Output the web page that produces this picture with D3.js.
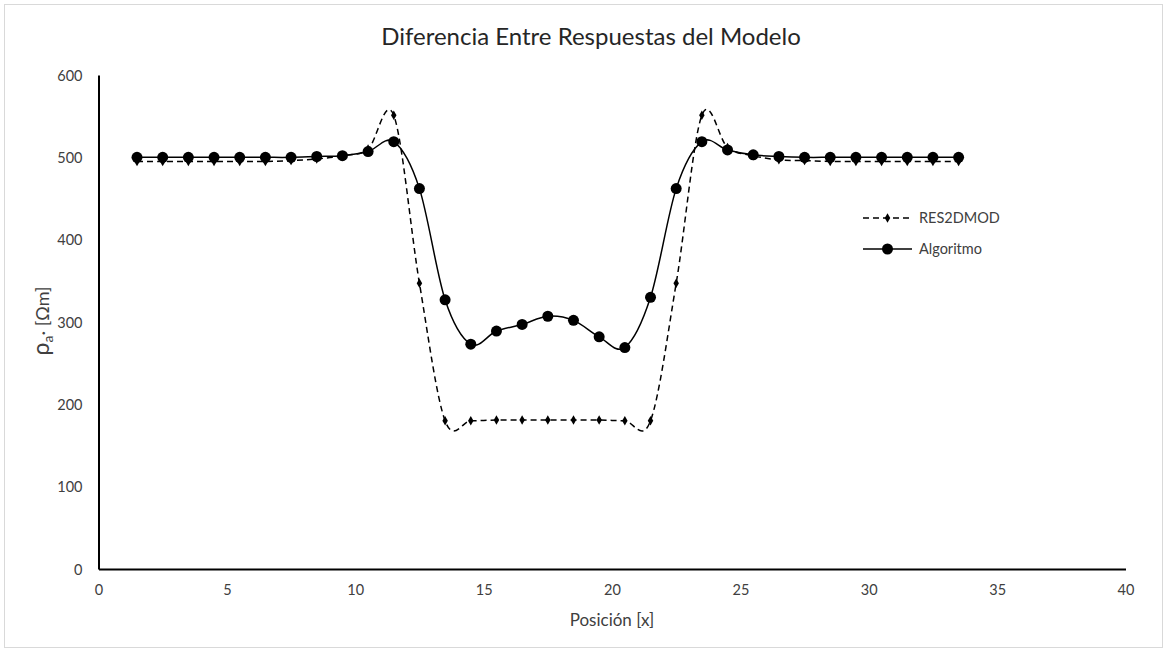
<!DOCTYPE html>
<html>
<head>
<meta charset="utf-8">
<script src="https://cdn.jsdelivr.net/npm/d3@7"></script>
<style>
  html, body { margin: 0; padding: 0; background: #fff; }
  svg { display: block; }
  text { font-family: Lato, "Open Sans", sans-serif; fill: #404040; }
</style>
</head>
<body>
<svg id="chart" width="1167" height="651"></svg>
<script>
// Apparent resistivity profiles along the survey line
const positions = [1.5, 2.5, 3.5, 4.5, 5.5, 6.5, 7.5, 8.5, 9.5, 10.5, 11.5,
  12.5, 13.5, 14.5, 15.5, 16.5, 17.5, 18.5, 19.5, 20.5, 21.5, 22.5, 23.5,
  24.5, 25.5, 26.5, 27.5, 28.5, 29.5, 30.5, 31.5, 32.5, 33.5];

const res2dmod = [495, 495, 495, 495, 495, 495, 496, 498, 502, 510, 551,
  347, 180, 180, 181, 181, 181, 181, 181, 180, 180, 347, 551,
  512, 502, 497, 496, 495, 495, 495, 495, 495, 495];

const algoritmo = [500, 500, 500, 500, 500, 500, 500, 501, 502, 507, 519,
  462, 327, 273, 289, 297, 307, 302, 282, 269, 330, 462, 519,
  509, 503, 501, 500, 500, 500, 500, 500, 500, 500];

const xTicks = [0, 5, 10, 15, 20, 25, 30, 35, 40];
const yTicks = [0, 100, 200, 300, 400, 500, 600];

const seriesNames = ["RES2DMOD", "Algoritmo"];
const chartTitle = "Diferencia Entre Respuestas del Modelo";
const xTitle = "Posición [x]";

const svg = d3.select("#chart");

// outer frame of the chart area
svg.append("rect")
  .attr("x", 4.5).attr("y", 4.5)
  .attr("width", 1158).attr("height", 643)
  .attr("fill", "#fff")
  .attr("stroke", "#d9d9d9").attr("stroke-width", 1);

const x = d3.scaleLinear().domain([0, 40]).range([98.5, 1125.5]);
const y = d3.scaleLinear().domain([0, 600]).range([569, 75]);

// axes: plain black lines, no tick marks
const xAxis = d3.axisBottom(x).tickValues(xTicks).tickSize(0).tickPadding(16);
const yAxis = d3.axisLeft(y).tickValues(yTicks).tickSize(0).tickPadding(16);

const gx = svg.append("g").attr("transform", `translate(0,${y(0)})`).call(xAxis);
const gy = svg.append("g").attr("transform", `translate(${x(0)},0)`).call(yAxis);

[gx, gy].forEach(g => {
  g.select(".domain").attr("stroke", "#000").attr("stroke-width", 2);
  g.selectAll("text")
    .attr("font-family", "Lato, 'Open Sans', sans-serif")
    .attr("font-size", 14.5)
    .attr("fill", "#404040");
});
gy.selectAll("text").attr("dy", "0.35em");

// title
svg.append("text")
  .attr("x", 591).attr("y", 45)
  .attr("text-anchor", "middle")
  .attr("font-size", 24)
  .style("fill", "#262626")
  .text(chartTitle);

// x axis title
svg.append("text")
  .attr("x", 612).attr("y", 626)
  .attr("text-anchor", "middle")
  .attr("font-size", 17)
  .text(xTitle);

// y axis title: rho_a · [Ωm]
const yt = svg.append("text")
  .attr("transform", "translate(49,321) rotate(-90)")
  .attr("text-anchor", "middle")
  .attr("font-size", 18);
yt.append("tspan").attr("font-size", 23).text("ρ");
yt.append("tspan").attr("font-size", 14).attr("dy", 4).text("a");
yt.append("tspan").attr("dy", -4).text("· [Ωm]");

// curves
const line = d3.line()
  .x(d => x(d[0]))
  .y(d => y(d[1]))
  .curve(d3.curveCardinal.tension(0));

const resPts = positions.map((p, i) => [p, res2dmod[i]]);
const algPts = positions.map((p, i) => [p, algoritmo[i]]);

svg.append("path")
  .datum(resPts)
  .attr("d", line)
  .attr("fill", "none")
  .attr("stroke", "#000")
  .attr("stroke-width", 1.5)
  .attr("stroke-dasharray", "6,4");

svg.append("path")
  .datum(algPts)
  .attr("d", line)
  .attr("fill", "none")
  .attr("stroke", "#000")
  .attr("stroke-width", 1.5);

const diamond = d3.symbol().type(d3.symbolDiamond).size(26);

svg.append("g").selectAll("path")
  .data(resPts)
  .join("path")
  .attr("transform", d => `translate(${x(d[0])},${y(d[1])})`)
  .attr("d", diamond)
  .attr("fill", "#000");

svg.append("g").selectAll("circle")
  .data(algPts)
  .join("circle")
  .attr("cx", d => x(d[0]))
  .attr("cy", d => y(d[1]))
  .attr("r", 5.5)
  .attr("fill", "#000");

// legend
const legend = svg.append("g");
const legY = [218, 249];
const lx0 = 863, lx1 = 912;

legend.append("line")
  .attr("x1", lx0).attr("x2", lx1).attr("y1", legY[0]).attr("y2", legY[0])
  .attr("stroke", "#000").attr("stroke-width", 1.5).attr("stroke-dasharray", "6,4");
legend.append("path")
  .attr("transform", `translate(${(lx0 + lx1) / 2},${legY[0]})`)
  .attr("d", diamond).attr("fill", "#000");

legend.append("line")
  .attr("x1", lx0).attr("x2", lx1).attr("y1", legY[1]).attr("y2", legY[1])
  .attr("stroke", "#000").attr("stroke-width", 1.5);
legend.append("circle")
  .attr("cx", (lx0 + lx1) / 2).attr("cy", legY[1]).attr("r", 5.5).attr("fill", "#000");

legend.selectAll("text.lbl")
  .data(seriesNames)
  .join("text")
  .attr("class", "lbl")
  .attr("x", 919)
  .attr("y", (d, i) => legY[i])
  .attr("dy", "0.35em")
  .attr("font-size", 14.5)
  .text(d => d);
</script>
</body>
</html>
